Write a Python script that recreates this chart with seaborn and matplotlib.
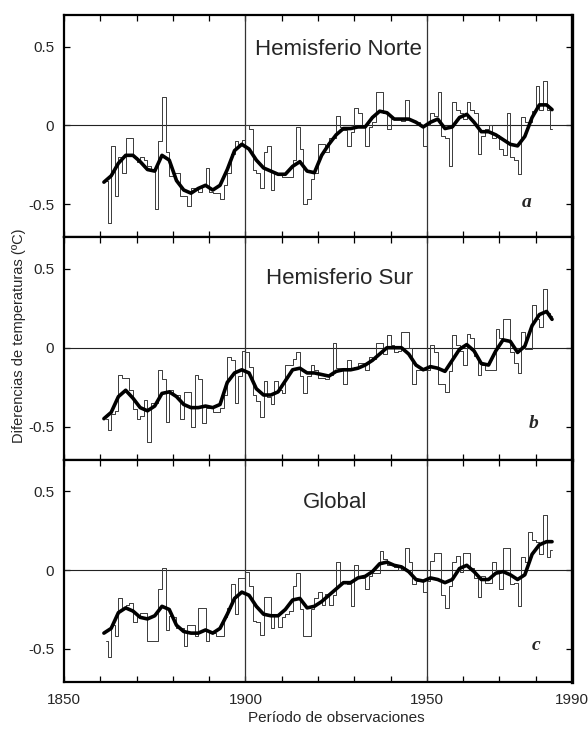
import numpy as np
import pandas as pd
import matplotlib
matplotlib.use("Agg")
import matplotlib.pyplot as plt
import seaborn as sns

# ---------------- data ----------------
years = np.arange(1861, 1985)

nh = [-0.35, -0.62, -0.13, -0.45, -0.20, -0.30, -0.08, -0.08, -0.20, -0.23,
      -0.20, -0.22, -0.26, -0.28, -0.53, -0.10, 0.18, -0.17, -0.32, -0.30,
      -0.30, -0.45, -0.45, -0.51, -0.40, -0.40, -0.42, -0.38, -0.27, -0.42,
      -0.43, -0.43, -0.47, -0.38, -0.30, -0.18, -0.10, -0.12, -0.09, 0.00,
      -0.02, -0.28,
      -0.30, -0.40, -0.17, -0.13, -0.41, -0.30, -0.30, -0.33, -0.33, -0.33,
      -0.22, -0.01, -0.15, -0.50, -0.47, -0.34, -0.30, -0.12, -0.12, -0.17,
      -0.08, -0.08, 0.06, -0.01, -0.03, -0.13, -0.04, 0.11, 0.08, -0.01,
      -0.13, -0.01, 0.02, 0.21, 0.21, 0.08, -0.02, 0.04, 0.04, 0.04,
      0.03, 0.16, 0.04, 0.03, 0.02, 0.00, -0.13,
      0.00, 0.08, 0.06, 0.21, -0.07, -0.08, -0.26, 0.15, 0.10, 0.08,
      0.04, 0.15, 0.10, 0.08, -0.18, -0.07, -0.02, 0.00, -0.08, -0.06,
      -0.15, -0.19, 0.08, -0.20, -0.22, -0.31, 0.05, 0.02, 0.02, 0.09,
      0.25, 0.10, 0.28, 0.10, -0.02]

sh = [-0.45, -0.52, -0.42, -0.40, -0.17, -0.19, -0.19, -0.27, -0.39, -0.45,
      -0.43, -0.33, -0.60, -0.35, -0.35, -0.14, -0.20, -0.47, -0.27, -0.30,
      -0.30, -0.45, -0.28, -0.28, -0.50, -0.17, -0.20, -0.48, -0.38, -0.38,
      -0.41, -0.41, -0.38, -0.30, -0.06, -0.08, -0.35, -0.18, -0.02, -0.03,
      -0.12, -0.30,
      -0.34, -0.44, -0.21, -0.31, -0.36, -0.21, -0.27, -0.29, -0.11, -0.11,
      -0.07, -0.03, -0.18, -0.29, -0.18, -0.11, -0.14, -0.19, -0.19, -0.20,
      -0.17, 0.03, -0.13, -0.13, -0.23, -0.08, -0.13, -0.12, -0.10, -0.10,
      -0.14, -0.06, -0.07, 0.03, 0.03, -0.04, 0.08, 0.02, -0.03, -0.02,
      0.10, 0.10, 0.00, -0.23, -0.14, -0.14, -0.14,
      -0.14, 0.02, -0.03, -0.23, -0.23, -0.28, -0.15, 0.08, 0.02, -0.02,
      -0.11, 0.09, 0.06, -0.05, -0.17, -0.11, -0.14, -0.14, -0.14, 0.12,
      0.06, 0.18, 0.18, -0.03, -0.10, -0.16, 0.10, -0.01, -0.01, 0.27,
      0.18, 0.13, 0.37, 0.22, 0.20]

gl = [-0.45, -0.55, -0.35, -0.42, -0.18, -0.24, -0.22, -0.21, -0.33, -0.30,
      -0.27, -0.27, -0.45, -0.45, -0.45, -0.12, 0.01, -0.38, -0.29, -0.30,
      -0.37, -0.37, -0.48, -0.35, -0.35, -0.42, -0.24, -0.24, -0.45, -0.40,
      -0.40, -0.42, -0.42, -0.30, -0.24, -0.09, -0.28, -0.05, -0.05, -0.01,
      -0.10, -0.32,
      -0.33, -0.41, -0.17, -0.17, -0.37, -0.29, -0.36, -0.30, -0.28, -0.26,
      -0.10, -0.02, -0.25, -0.42, -0.42, -0.25, -0.18, -0.14, -0.22, -0.15,
      -0.22, -0.16, 0.05, -0.08, -0.08, -0.09, -0.23, 0.03, -0.04, -0.05,
      -0.12, -0.04, -0.02, -0.02, 0.12, 0.07, 0.03, 0.03, 0.02, 0.00,
      0.02, 0.14, 0.05, -0.09, -0.07, -0.07, -0.14,
      -0.07, 0.06, 0.11, 0.11, -0.16, -0.24, -0.10, 0.05, 0.09, -0.01,
      0.11, 0.11, 0.01, -0.05, -0.17, -0.04, -0.08, -0.08, 0.05, -0.01,
      -0.12, 0.14, 0.14, -0.09, -0.08, -0.23, 0.08, 0.05, 0.24, 0.19,
      0.18, 0.10, 0.35, 0.08, 0.13]

smooth_years = list(range(1861, 1984, 2)) + [1984.5]

nh_smooth = [-0.36, -0.32, -0.24, -0.19, -0.19, -0.23, -0.28, -0.29, -0.19, -0.22,
             -0.35, -0.41, -0.43, -0.40, -0.38, -0.41, -0.38, -0.28, -0.16, -0.12,
             -0.15, -0.22, -0.27, -0.29, -0.31, -0.31, -0.26, -0.23, -0.29, -0.30,
             -0.19, -0.12, -0.06, -0.02, -0.02, -0.01, -0.01, 0.05, 0.09, 0.08,
             0.04, 0.04, 0.04, 0.02, -0.01, 0.02, 0.04, -0.02, -0.01, 0.05,
             0.07, 0.02, -0.04, -0.04, -0.06, -0.09, -0.12, -0.13, -0.07, 0.05,
             0.13, 0.13, 0.10]

sh_smooth = [-0.45, -0.41, -0.31, -0.27, -0.32, -0.38, -0.40, -0.37, -0.29, -0.28,
             -0.31, -0.36, -0.38, -0.38, -0.37, -0.38, -0.36, -0.22, -0.16, -0.14,
             -0.16, -0.26, -0.30, -0.30, -0.28, -0.21, -0.14, -0.13, -0.16, -0.16,
             -0.17, -0.18, -0.15, -0.14, -0.14, -0.13, -0.11, -0.08, -0.04, 0.00,
             0.00, 0.00, -0.04, -0.11, -0.14, -0.12, -0.13, -0.15, -0.08, -0.01,
             0.02, -0.02, -0.10, -0.11, -0.02, 0.05, 0.04, -0.03, 0.01, 0.14,
             0.21, 0.23, 0.18]

gl_smooth = [-0.40, -0.37, -0.27, -0.24, -0.26, -0.30, -0.31, -0.29, -0.23, -0.25,
             -0.35, -0.39, -0.40, -0.40, -0.38, -0.40, -0.37, -0.28, -0.18, -0.14,
             -0.16, -0.23, -0.28, -0.29, -0.29, -0.25, -0.19, -0.18, -0.24, -0.23,
             -0.20, -0.16, -0.12, -0.08, -0.08, -0.05, -0.04, -0.01, 0.04, 0.05,
             0.03, 0.02, -0.01, -0.06, -0.07, -0.05, -0.06, -0.08, -0.06, 0.01,
             0.03, -0.01, -0.06, -0.06, -0.02, -0.01, -0.03, -0.06, -0.03, 0.10,
             0.16, 0.18, 0.18]

titles = ["Hemisferio Norte", "Hemisferio Sur", "Global"]
letters = ["a", "b", "c"]
yticks = [-0.5, 0, 0.5]
ytick_labels = ["-0.5", "0", "0.5"]
xticks = [1850, 1900, 1950, 1990]
xtick_labels = ["1850", "1900", "1950", "1990"]

# ---------------- style ----------------
sns.set_style("ticks")
plt.rcParams["font.family"] = ["Liberation Sans", "DejaVu Sans"]

W, H = 588, 732
fig = plt.figure(figsize=(W / 100, H / 100), dpi=100)
axes = fig.subplots(3, 1, sharex=True)
fig.subplots_adjust(left=64 / W, right=572 / W, top=1 - 15 / H,
                    bottom=1 - 682 / H, hspace=0)

series = [nh, sh, gl]
smooths = [nh_smooth, sh_smooth, gl_smooth]
title_pos = [(1925.5, 0.48), (1926.0, 0.44), (1924.7, 0.43)]
letter_pos = [(1977.6, -0.49), (1979.3, -0.48), (1980.0, -0.48)]

for i, ax in enumerate(axes):
    df = pd.DataFrame({"year": years + 0.5, "val": series[i]})
    sdf = pd.DataFrame({"year": smooth_years, "val": smooths[i]})
    ax.axhline(0, color="#222222", lw=0.8, zorder=1)
    for xv in (1900, 1950):
        ax.axvline(xv, color="#333333", lw=0.9, zorder=1)
    sns.lineplot(data=df, x="year", y="val", ax=ax, drawstyle="steps-mid",
                 color="#3a3a3a", lw=0.7, zorder=2)
    sns.lineplot(data=sdf, x="year", y="val", ax=ax, color="black",
                 lw=2.6, zorder=3)
    ax.set_xlim(1850, 1990)
    ax.set_ylim(-0.71, 0.70)
    ax.set_yticks(yticks)
    ax.set_yticklabels(ytick_labels, fontsize=11)
    ax.set_xticks(np.arange(1860, 1990, 10), minor=True)
    ax.set_xticks(xticks)
    ax.set_xlabel("")
    ax.set_ylabel("")
    ax.tick_params(axis="both", which="both", direction="in", top=True,
                   right=True, length=4, width=0.9, color="black")
    ax.tick_params(axis="y", pad=7)
    for s in ax.spines.values():
        s.set_linewidth(1.6)
        s.set_color("black")
    ax.spines["right"].set_linewidth(2.4)
    ax.text(title_pos[i][0], title_pos[i][1], titles[i], fontsize=16,
            ha="center", va="center")
    ax.text(letter_pos[i][0], letter_pos[i][1], letters[i], fontsize=14,
            ha="center", va="center", style="italic", weight="bold",
            family=["Liberation Serif", "DejaVu Serif"])
    if i < 2:
        ax.tick_params(axis="x", labelbottom=False)

axes[2].set_xticklabels(xtick_labels, fontsize=11)
axes[2].tick_params(axis="x", pad=8)

fig.text(19 / W, 1 - 336 / H, "Diferencias de temperaturas (ºC)",
         rotation=90, ha="center", va="center", fontsize=10.5)
fig.text(336 / W, 1 - 718 / H, "Período de observaciones",
         ha="center", va="center", fontsize=11)

fig.savefig("out.png", dpi=100)
